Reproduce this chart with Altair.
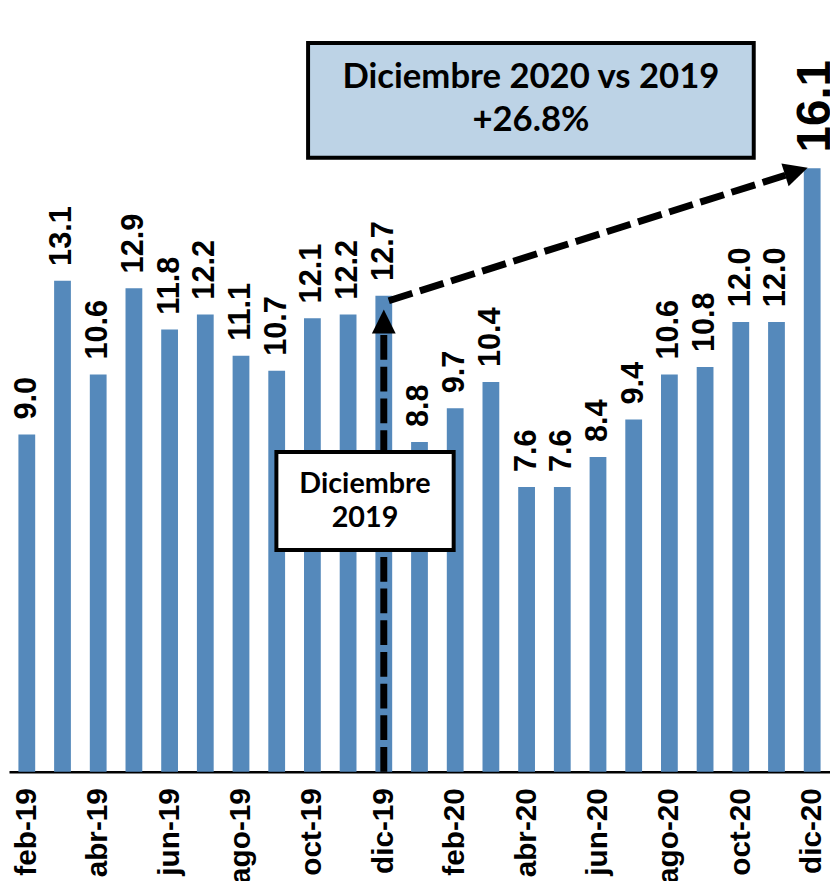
import altair as alt
import pandas as pd

# ---- data ----
meses = ["feb-19", "mar-19", "abr-19", "may-19", "jun-19", "jul-19", "ago-19", "sep-19",
         "oct-19", "nov-19", "dic-19", "ene-20", "feb-20", "mar-20", "abr-20", "may-20",
         "jun-20", "jul-20", "ago-20", "sep-20", "oct-20", "nov-20", "dic-20"]
valores = [9.0, 13.1, 10.6, 12.9, 11.8, 12.2, 11.1, 10.7, 12.1, 12.2, 12.7,
           8.8, 9.7, 10.4, 7.6, 7.6, 8.4, 9.4, 10.6, 10.8, 12.0, 12.0, 16.1]
etiquetas_eje = meses[::2]

mes_inicio = "dic-19"
mes_fin = "dic-20"
valor_inicio = 12.7
valor_fin = 16.1

caja1_lineas = ["Diciembre 2020 vs 2019", "+26.8%"]
caja2_lineas = ["Diciembre", "2019"]

# ---- tables ----
df = pd.DataFrame({"mes": meses, "valor": valores})
df_main = df[df["mes"] != mes_fin]
df_last = df[df["mes"] == mes_fin]
df_vert = pd.DataFrame({"mes": [mes_inicio], "base": [0.0], "tope": [valor_inicio]})
df_diag = pd.DataFrame({"mes": [mes_inicio], "mes2": [mes_fin],
                        "v1": [valor_inicio], "v2": [valor_fin]})
df_head_up = pd.DataFrame({"mes": [mes_inicio], "valor": [valor_inicio]})
df_head_diag = pd.DataFrame({"mes": [mes_fin], "valor": [valor_fin]})
one = pd.DataFrame({"k": [0]})

BLUE = "#5589BB"
FONT = "Arial"
ANN_FONT = "Lato"

x_scale = alt.Scale(domain=meses, paddingInner=0.53, paddingOuter=0.264)
x_enc = alt.X(
    "mes:N", scale=x_scale,
    axis=alt.Axis(values=etiquetas_eje, labelAngle=270, labelAlign="right",
                  labelBaseline="middle", labelFontSize=30, labelFont=FONT,
                  labelFontWeight="bold", labelColor="black", labelPadding=16,
                  ticks=False, domainColor="black", domainWidth=2.5, title=None,
                  labelOverlap=False, grid=False),
)
y_scale = alt.Scale(domain=[0, 20])
y_enc = alt.Y("valor:Q", scale=y_scale, axis=None)

bars = alt.Chart(df).mark_bar(color=BLUE).encode(x=x_enc, y=y_enc)

labels = alt.Chart(df_main).mark_text(
    angle=270, align="left", baseline="middle", dx=15, fontSize=31,
    font=FONT, fontWeight="bold", color="black"
).encode(x=x_enc, y=y_enc, text=alt.Text("valor:Q", format=".1f"))

label_last = alt.Chart(df_last).mark_text(
    angle=270, align="left", baseline="middle", dx=16, dy=4, fontSize=48,
    font=FONT, fontWeight="bold", color="black"
).encode(x=x_enc, y=y_enc, text=alt.Text("valor:Q", format=".1f"))

arrow_path = "M0,-1L-1,1L1,1Z"

vert = alt.Chart(df_vert).mark_rule(
    color="black", strokeWidth=7, strokeDash=[25, 7], y2Offset=37
).encode(x=x_enc, y=alt.Y("base:Q", scale=y_scale, axis=None), y2="tope:Q")

head_up = alt.Chart(df_head_up).mark_point(
    shape=arrow_path, size=576, filled=True, color="black", opacity=1,
    strokeWidth=0, yOffset=26
).encode(x=x_enc, y=y_enc)

box2 = alt.Chart(one).mark_rect(
    fill="white", stroke="black", strokeWidth=4
).encode(x=alt.value(270), x2=alt.value(449), y=alt.value(434), y2=alt.value(533))

box2_t1 = alt.Chart(one).mark_text(
    font=ANN_FONT, fontWeight="bold", fontSize=29, color="black",
    align="center", baseline="alphabetic"
).encode(x=alt.value(359.5), y=alt.value(475), text=alt.value(caja2_lineas[0]))
box2_t2 = alt.Chart(one).mark_text(
    font=ANN_FONT, fontWeight="bold", fontSize=29, color="black",
    align="center", baseline="alphabetic"
).encode(x=alt.value(359.5), y=alt.value(510), text=alt.value(caja2_lineas[1]))

diag = alt.Chart(df_diag).mark_rule(
    color="black", strokeWidth=7, strokeDash=[25, 8],
    xOffset=5, yOffset=5, x2Offset=-27, y2Offset=7
).encode(x=x_enc, x2="mes2:N",
         y=alt.Y("v1:Q", scale=y_scale, axis=None), y2="v2:Q")

head_diag = alt.Chart(df_head_diag).mark_point(
    shape=arrow_path, size=576, filled=True, color="black", opacity=1,
    strokeWidth=0, angle=72.4, xOffset=-16, yOffset=3
).encode(x=x_enc, y=y_enc)

box1 = alt.Chart(one).mark_rect(
    fill="#BDD3E6", stroke="black", strokeWidth=4
).encode(x=alt.value(302), x2=alt.value(752), y=alt.value(21), y2=alt.value(137))

box1_t1 = alt.Chart(one).mark_text(
    font=ANN_FONT, fontWeight="bold", fontSize=35, color="black",
    align="center", baseline="alphabetic"
).encode(x=alt.value(527), y=alt.value(67), text=alt.value(caja1_lineas[0]))
box1_t2 = alt.Chart(one).mark_text(
    font=ANN_FONT, fontWeight="bold", fontSize=35, color="black",
    align="center", baseline="alphabetic"
).encode(x=alt.value(527), y=alt.value(110), text=alt.value(caja1_lineas[1]))

chart = alt.layer(
    bars, labels, label_last, vert, head_up, box2, box2_t1, box2_t2,
    diag, head_diag, box1, box1_t1, box1_t2
).properties(
    width=829, height=757,
    autosize=alt.AutoSizeParams(type="none"),
    padding={"left": 1, "top": 10, "right": 0, "bottom": 106},
    background="white",
).configure_view(stroke=None)

chart.save("out.html", embed_options={"renderer": "svg", "actions": False})
